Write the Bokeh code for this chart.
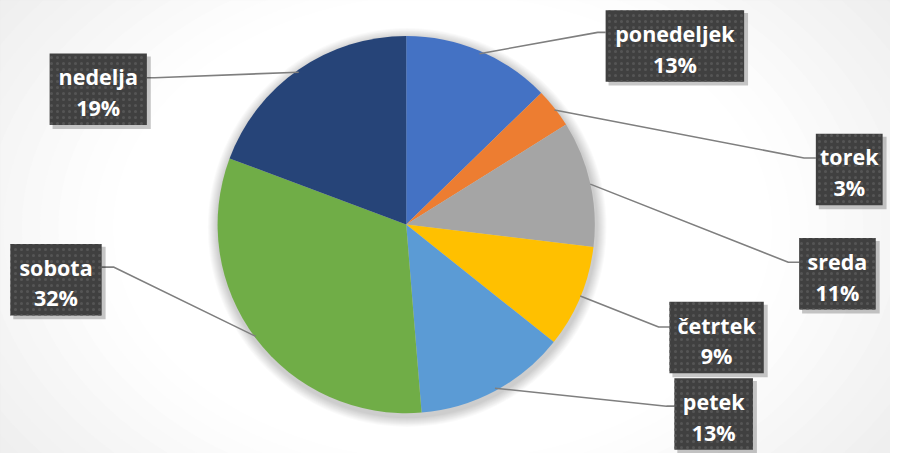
import numpy as np
from bokeh.plotting import figure
from bokeh.models import Range1d
from bokeh.core.properties import value
from bokeh.embed import file_html
from bokeh.resources import INLINE

# ---- data ----
days = ["ponedeljek", "torek", "sreda", "četrtek", "petek", "sobota", "nedelja"]
shares = [12.7, 3.4, 10.8, 8.8, 13.0, 32.0, 19.3]
colors = ["#4472C4", "#ED7D31", "#A5A5A5", "#FFC000", "#5B9BD5", "#70AD47", "#264478"]

# ---- layout (reference pixel coords, y down) ----
W, H = 906, 469
CX, CY, R = 413, 232, 192
box_x0 = [616, 830, 813, 681, 686, 10, 50]
box_x1 = [757, 898, 891, 777, 766, 103, 149]
box_y0 = [10, 138, 246, 312, 391, 252, 55]
elbow_x = [608, 818, 802, 670, 678, 115, 157]
elbow_y = [33, 163, 271, 338, 420, 276, 80]

def fy(Y):
    return H - Y

p = figure(width=890, height=453, output_backend="svg", toolbar_location=None,
           x_range=Range1d(0, W), y_range=Range1d(0, H), min_border=0)
p.axis.visible = False
p.grid.visible = False
p.outline_line_color = None
p.background_fill_color = "#DCDCDC"
p.border_fill_color = "#DCDCDC"

# radial background gradient
n = 40
for i in range(n):
    t = i / (n - 1)
    r = 640 * (1 - t) + 60 * t
    g = int(round(0xDC + (0xFF - 0xDC) * min(1, t * 1.6)))
    col = "#%02x%02x%02x" % (g, g, g)
    p.ellipse(x=450, y=fy(235), width=2 * r * 1.25, height=2 * r * 0.9, fill_color=col, line_color=None)

# pie soft shadow
for k in range(10):
    p.circle(x=CX + 1, y=fy(CY + 3), radius=R + 11 - k, fill_color="#000000",
             fill_alpha=0.018, line_color=None)

# wedges
total = sum(shares)
fr = np.array(shares) / total
cum = np.concatenate([[0], np.cumsum(fr)])
start = np.pi / 2 - 2 * np.pi * cum[1:]
end = np.pi / 2 - 2 * np.pi * cum[:-1]
p.wedge(x=CX, y=fy(CY), radius=R, start_angle=start, end_angle=end,
        fill_color=colors, line_color=None)

# leader lines
mid = 2 * np.pi * (cum[:-1] + cum[1:]) / 2
sx = CX + R * np.sin(mid)
sy = CY - R * np.cos(mid)
for i in range(len(days)):
    bx = box_x0[i] if elbow_x[i] > CX else box_x1[i]
    p.line(x=[sx[i], elbow_x[i], bx], y=[fy(sy[i]), fy(elbow_y[i]), fy(elbow_y[i])],
           line_color="#7F7F7F", line_width=1.6)

# label boxes
BH = 74
for i, d in enumerate(days):
    x0, x1, y0 = box_x0[i], box_x1[i], box_y0[i]
    p.quad(left=x0 + 3, right=x1 + 4, top=fy(y0 + 3), bottom=fy(y0 + BH + 4),
           fill_color="#000000", fill_alpha=0.22, line_color=None)
    p.quad(left=x0, right=x1, top=fy(y0), bottom=fy(y0 + BH),
           fill_color="#404040", line_color=None,
           hatch_pattern="dot", hatch_color="#555555", hatch_scale=6, hatch_weight=1.2)
    pct = "%d%%" % round(shares[i] / total * 100)
    cxb = (x0 + x1) / 2
    p.text(x=[cxb], y=[fy(y0 + 24)], text=[d], text_color="white",
           text_font=value("Open Sans"), text_font_style="bold", text_font_size="21.5px",
           text_align="center", text_baseline="middle")
    p.text(x=[cxb], y=[fy(y0 + 56)], text=[pct], text_color="white",
           text_font=value("Open Sans"), text_font_style="bold", text_font_size="21.5px",
           text_align="center", text_baseline="middle")

open("out.html", "w").write(file_html(p, INLINE))
